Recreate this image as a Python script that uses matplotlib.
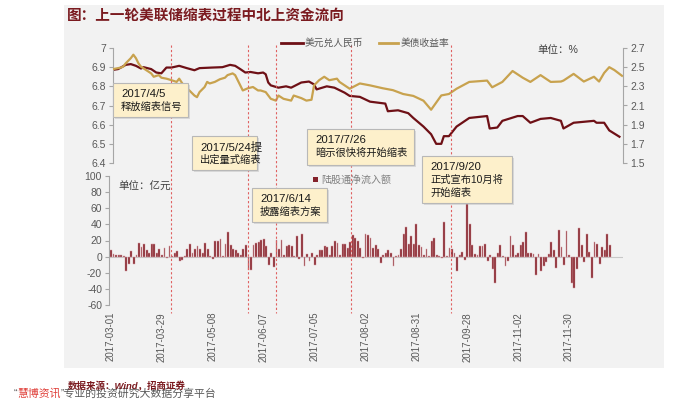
import numpy as np
import matplotlib
matplotlib.use('Agg')
import matplotlib.pyplot as plt
from matplotlib.patches import Rectangle
from matplotlib.lines import Line2D
import matplotlib.transforms as mtransforms

plt.rcParams['font.family'] = ['Liberation Sans', 'Noto Sans CJK SC']
plt.rcParams['axes.unicode_minus'] = False

# ---------------- data ----------------
title = '图：上一轮美联储缩表过程中北上资金流向'
series_names = ['美元兑人民币', '美债收益率']
bar_name = '陆股通净流入额'

# trading-day index and values of USD/CNY (left axis)
red_day = [0, 2, 5, 7, 9, 11, 12, 15, 17, 19,
           21, 23, 26, 29, 32, 34, 39, 43, 46, 48,
           50, 52, 54, 57, 59, 60, 61, 62, 65, 68,
           70, 74, 77, 79, 80, 84, 87, 91, 93, 97,
           101, 107, 108, 112, 116, 118, 122, 125, 127, 129,
           130, 132, 135, 140, 147, 148, 151, 153, 159, 161,
           164, 168, 172, 176, 177, 181, 189, 190, 193, 195,
           199]
red_val = [6.886, 6.89, 6.912, 6.916, 6.907, 6.893, 6.90, 6.89, 6.872, 6.868,
           6.898, 6.898, 6.907, 6.895, 6.884, 6.895, 6.898, 6.90, 6.912, 6.907,
           6.89, 6.872, 6.875, 6.868, 6.872, 6.863, 6.82, 6.805, 6.793, 6.80,
           6.793, 6.82, 6.825, 6.81, 6.784, 6.80, 6.793, 6.767, 6.75, 6.745,
           6.72, 6.71, 6.67, 6.675, 6.66, 6.635, 6.59, 6.55, 6.50, 6.50,
           6.54, 6.54, 6.59, 6.635, 6.645, 6.58, 6.585, 6.62, 6.645, 6.645,
           6.61, 6.63, 6.635, 6.62, 6.58, 6.61, 6.62, 6.61, 6.61, 6.57,
           6.537]

# trading-day index and values of US Treasury yield (right axis, %)
gold_day = [0, 3, 4, 5, 7, 8, 9, 10, 11, 13,
            15, 16, 18, 19, 21, 23, 25, 26, 28, 30,
            32, 33, 34, 36, 37, 38, 40, 42, 44, 45,
            47, 48, 49, 51, 53, 55, 57, 58, 60, 62,
            64, 65, 67, 70, 71, 74, 76, 78, 79, 81,
            83, 85, 88, 89, 93, 97, 101, 106, 110, 114,
            118, 122, 125, 129, 132, 135, 140, 147, 149, 153,
            157, 161, 164, 168, 172, 176, 177, 181, 185, 189,
            191, 193, 195, 197, 200]
gold_val = [2.48, 2.495, 2.505, 2.54, 2.594, 2.63, 2.594, 2.54, 2.505, 2.47,
            2.435, 2.40, 2.417, 2.39, 2.38, 2.364, 2.346, 2.38, 2.30, 2.257,
            2.204, 2.187, 2.24, 2.293, 2.346, 2.33, 2.346, 2.374, 2.39, 2.417,
            2.435, 2.417, 2.364, 2.257, 2.28, 2.293, 2.257, 2.257, 2.24, 2.17,
            2.151, 2.204, 2.17, 2.151, 2.204, 2.177, 2.151, 2.16, 2.31, 2.364,
            2.40, 2.364, 2.38, 2.346, 2.275, 2.33, 2.31, 2.28, 2.26, 2.22,
            2.20, 2.15, 2.056, 2.205, 2.22, 2.275, 2.346, 2.36, 2.29, 2.346,
            2.46, 2.39, 2.346, 2.417, 2.346, 2.35, 2.36, 2.43, 2.35, 2.40,
            2.35, 2.44, 2.50, 2.47, 2.41]

# daily northbound net inflow (亿元)
flow = [8, 3, 2, 2, 2, 0.5, -18, -9, 7, -9,
        2, 17, 12, 16, 8, 5, 16, 16, 4, 9,
        2, 11, -2, 13, 1, 4, 7, -5, -4, 0.5,
        10, 16, 5, 9, 13, 9, 5, 17, 10, 1,
        -3, 20, 20, 22, 1, 16, 30, 14, 10, 8,
        5, 2, 10, 14, -16, -16, 14, 17, 18, 21,
        22, 13, -10, 4, -13, 21, 9, 21, 2, 13,
        14, 13, 1, 25, -3, 28, -12, 3, -5, 5,
        -11, 2, 8, 8, 13, 12, 2, 13, 20, 17,
        2, 16, 16, 11, 18, 27, 23, 19, 11, -2,
        28, 27, 23, 11, 14, 10, -8, 2, 4, 8,
        5, -12, 1, 2, 10, 28, 37, 16, 25, 16,
        40, 14, 12, 2, 9, 1, 20, 23, 2, 1,
        -2, 43, 1, 11, 9, 5, -18, 2, 6, -4,
        66, 41, 14, 3, 2, 13, 13, 16, -6, 2,
        -15, -33, 4, 14, 1, -12, -6, 25, 14, 2,
        4, 14, 18, 30, 4, 5, 3, -23, 3, -18,
        -12, -7, 3, 18, 8, -14, 33, 12, -10, 32,
        2, -33, -39, -15, 36, 14, -7, 28, 6, -27,
        18, 16, -9, 12, 8, 28, 14]

date_tick_pos = [0, 20, 40, 60, 80, 100, 120, 140, 160, 180]
date_labels = ['2017-03-01', '2017-03-29', '2017-05-08', '2017-06-07', '2017-07-05',
               '2017-08-02', '2017-08-31', '2017-09-28', '2017-11-02', '2017-11-30']

left_ticks = [6.4, 6.5, 6.6, 6.7, 6.8, 6.9, 7.0]
right_ticks = [1.5, 1.7, 1.9, 2.1, 2.3, 2.5, 2.7]
bar_ticks = [-60, -40, -20, 0, 20, 40, 60, 80, 100]

# event positions (trading-day index) and their notes
event_pos = [23.5, 53.8, 64.8, 94.5, 133.5]
event_notes = [['2017/4/5', '释放缩表信号'],
               ['2017/5/24提', '出定量式缩表'],
               ['2017/6/14', '披露缩表方案'],
               ['2017/7/26', '暗示很快将开始缩表'],
               ['2017/9/20', '正式宣布10月将', '开始缩表']]

# ---------------- figure ----------------
W, H = 676, 400
fig = plt.figure(figsize=(W / 100, H / 100), dpi=100)
fig.patch.set_facecolor('white')


def fx(px):
    return px / W


def fy(py):
    return 1 - py / H


RED = '#6e1016'
GOLD = '#c8a24e'
BAR = '#84222b'
GRAY_TXT = '#595959'
SPINE = '#a6a6a6'

# background panel
fig.add_artist(Rectangle((fx(64), fy(368)), (664 - 64) / W, (368 - 5) / H,
                         transform=fig.transFigure, facecolor='#f2f2f2',
                         edgecolor='none', zorder=-5))

# title
fig.text(fx(67), fy(16), title, color='#7a1a1f', fontsize=10.5, weight='bold',
         va='center', ha='left')

# ---------- top axes ----------
ax_top = fig.add_axes([fx(113), fy(163), (623 - 113) / W, (163 - 48) / H])
ax_top.set_facecolor('none')
ax_top.plot(red_day, red_val, color=RED, lw=1.6, solid_joinstyle='round')
ax_top.set_xlim(0, 200.4)
ax_top.set_ylim(6.4, 7.0)
ax_top.set_yticks(left_ticks)
ax_top.set_yticklabels(['{:g}'.format(v) for v in left_ticks])
ax_top.set_xticks([])

ax_r = ax_top.twinx()
ax_r.set_facecolor('none')
ax_r.plot(gold_day, gold_val, color=GOLD, lw=1.6, solid_joinstyle='round')
ax_r.set_ylim(1.5, 2.7)
ax_r.set_yticks(right_ticks)
ax_r.set_yticklabels(['{:g}'.format(v) for v in right_ticks])
ax_r.set_xlim(0, 200.4)

for a in (ax_top, ax_r):
    for s in a.spines.values():
        s.set_visible(False)
    a.tick_params(axis='y', direction='out', length=3, width=0.8, color=SPINE,
                  labelsize=7.5, labelcolor=GRAY_TXT, pad=2)
ax_top.spines['left'].set_visible(True)
ax_top.spines['left'].set_color(SPINE)
ax_r.spines['right'].set_visible(True)
ax_r.spines['right'].set_color(SPINE)

# ---------- bottom axes ----------
ax_bot = fig.add_axes([fx(109), fy(305), (623 - 109) / W, (305 - 176) / H])
ax_bot.set_facecolor('none')
ax_bot.bar(range(len(flow)), flow, width=0.72, color=BAR, edgecolor='#d8a0a6',
           linewidth=0.35, zorder=2)
ax_bot.axhline(0, color='#c8c8c8', lw=0.8, zorder=1)
ax_bot.set_xlim(-0.8, 201.2)
ax_bot.set_ylim(-60, 100)
ax_bot.set_yticks(bar_ticks)
ax_bot.set_yticklabels([str(v) for v in bar_ticks])
ax_bot.set_xticks(date_tick_pos)
ax_bot.set_xticklabels(date_labels, rotation=90)
for s in ax_bot.spines.values():
    s.set_visible(False)
ax_bot.spines['left'].set_visible(True)
ax_bot.spines['left'].set_color(SPINE)
ax_bot.tick_params(axis='y', direction='out', length=3, width=0.8, color=SPINE,
                   labelsize=7.5, labelcolor=GRAY_TXT, pad=2)
ax_bot.tick_params(axis='x', length=0, labelsize=7, labelcolor=GRAY_TXT, pad=5)

# ---------- event dashed lines ----------
trans = mtransforms.blended_transform_factory(ax_bot.transData, fig.transFigure)
for e in event_pos:
    fig.add_artist(Line2D([e, e], [fy(45), fy(313)], transform=trans,
                          color='#e06060', lw=0.8, linestyle=(0, (2, 2)), zorder=1))

# ---------- annotation boxes ----------
box_px = [(113, 83, 188, 117), (192, 136, 257, 170), (252, 188, 327, 222),
          (307, 129, 414, 165), (422, 156, 512, 203)]
for (x0, y0, x1, y1), note in zip(box_px, event_notes):
    fig.add_artist(Rectangle((fx(x0 + 2), fy(y1 + 2)), (x1 - x0) / W, (y1 - y0) / H,
                             transform=fig.transFigure, facecolor='#bbbbbb',
                             edgecolor='none', alpha=0.45, zorder=3))
    fig.add_artist(Rectangle((fx(x0), fy(y1)), (x1 - x0) / W, (y1 - y0) / H,
                             transform=fig.transFigure, facecolor='#fdf0cb',
                             edgecolor='#b8b8b8', lw=0.8, zorder=3.1))
    for k, line in enumerate(note):
        fs = 8.2 if k == 0 else 7.4
        fig.text(fx(x0 + 8), fy(y0 + 11 + 13 * k), line, fontsize=fs,
                 color='#1a1a1a', va='center', ha='left', zorder=4)

# ---------- legends / units ----------
fig.add_artist(Line2D([fx(281), fx(303)], [fy(43), fy(43)], color=RED, lw=2,
                      transform=fig.transFigure))
fig.text(fx(305), fy(43), series_names[0], fontsize=7, color=GRAY_TXT, va='center')
fig.add_artist(Line2D([fx(379), fx(398)], [fy(43), fy(43)], color=GOLD, lw=2,
                      transform=fig.transFigure))
fig.text(fx(401), fy(43), series_names[1], fontsize=7, color=GRAY_TXT, va='center')

fig.add_artist(Rectangle((fx(313), fy(182)), 5 / W, 5 / H, transform=fig.transFigure,
                         facecolor=BAR, edgecolor='none'))
fig.text(fx(321), fy(179.5), bar_name, fontsize=7.2, color='#7f7f7f', va='center')

fig.text(fx(118), fy(187), '单位：亿元', fontsize=7.6, color='#404040', va='center')
fig.text(fx(537), fy(50), '单位：%', fontsize=7.6, color='#404040', va='center')

# ---------- footer ----------
fig.text(fx(68), fy(386), '数据来源：Wind，招商证券', fontsize=6.8, color='#7a1a1f',
         weight='bold', style='italic', va='center', zorder=5)

renderer = fig.canvas.get_renderer()
x_cur = fx(14)
for piece, col in [('“', GRAY_TXT), ('慧博资讯', '#e0403a'),
                   ('”专业的投资研究大数据分享平台', GRAY_TXT)]:
    t = fig.text(x_cur, fy(394), piece, fontsize=7.8, color=col, va='center',
                 ha='left', zorder=4)
    bb = t.get_window_extent(renderer=renderer)
    x_cur = bb.x1 / fig.bbox.width

fig.savefig('out.png', dpi=100)
